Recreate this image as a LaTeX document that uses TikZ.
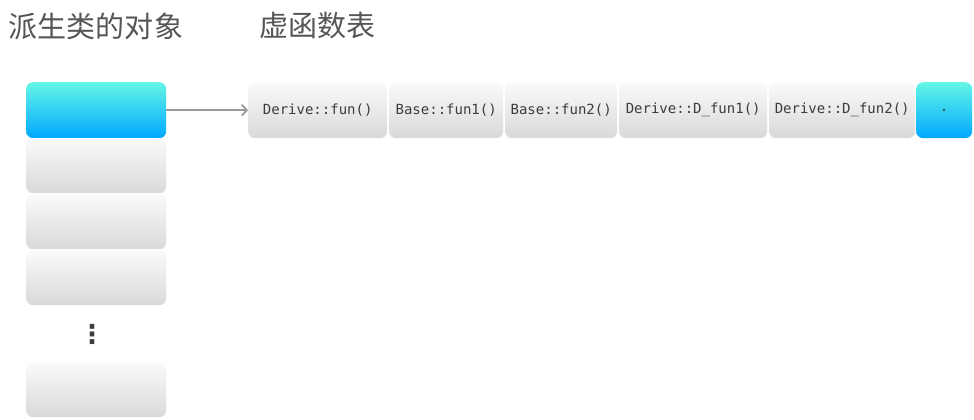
\documentclass[tikz,border=0pt]{standalone}
\usepackage{fontspec}
\usetikzlibrary{arrows.meta}
\newfontfamily\cjk{Noto Sans CJK SC}
\newfontfamily\mono{DejaVu Sans Mono}
\newfontfamily\sym{DejaVu Sans}
\definecolor{gtop}{HTML}{FAFAFA}
\definecolor{gbot}{HTML}{D9D9D9}
\definecolor{ctop}{HTML}{64F6E6}
\definecolor{cbot}{HTML}{00A8FF}
\definecolor{txt}{HTML}{3C3C3C}
\definecolor{ttl}{HTML}{555555}
\definecolor{arr}{HTML}{999999}
\tikzset{
  cellbox/.style={rounded corners=7pt, top color=gtop, bottom color=gbot, draw=none,
    minimum height=55pt, inner sep=0pt, anchor=north west, text=txt,
    font=\fontsize{14}{16}\selectfont\mono},
  cyanbox/.style={cellbox, top color=ctop, bottom color=cbot},
  title/.style={text=ttl, font=\fontsize{29}{32}\selectfont\cjk, inner sep=0pt},
  link/.style={draw=arr, line width=1.8pt, -{Straight Barb[length=5pt,width=11pt]}}
}
\begin{document}
\begin{tikzpicture}[x=1pt,y=-1pt]
\useasboundingbox[fill=white] (0,0) rectangle (974,420);
\node[title] (t1) at (96,26) {派生类的对象};
\node[title] (t2) at (317,26) {虚函数表};
% object
\node[cyanbox, minimum width=140pt, minimum height=56pt] (o1) at (26,82) {};
\node[cellbox, minimum width=140pt] (o2) at (26,138) {};
\node[cellbox, minimum width=140pt] (o3) at (26,194) {};
\node[cellbox, minimum width=140pt] (o4) at (26,250) {};
\node[text=txt, font=\fontsize{26}{28}\selectfont\sym\bfseries, inner sep=0pt] (dots) at (92,334) {⋮};
\node[cellbox, minimum width=140pt] (o5) at (26,362) {};
% vtable
\node[cellbox, minimum width=139pt, minimum height=56pt] (v1) at (248,82) {Derive::fun()};
\node[cellbox, minimum width=114pt, minimum height=56pt] (v2) at (389,82) {Base::fun1()};
\node[cellbox, minimum width=112pt, minimum height=56pt] (v3) at (505,82) {Base::fun2()};
\node[cellbox, minimum width=148pt, minimum height=56pt] (v4) at (619,82) {Derive::D\_fun1()};
\node[cellbox, minimum width=146pt, minimum height=56pt] (v5) at (769,82) {Derive::D\_fun2()};
\node[cyanbox, minimum width=56pt, minimum height=56pt] (v6) at (916,82) {.};
\draw[link] (o1.east) -- (v1.west);
\end{tikzpicture}
\end{document}
